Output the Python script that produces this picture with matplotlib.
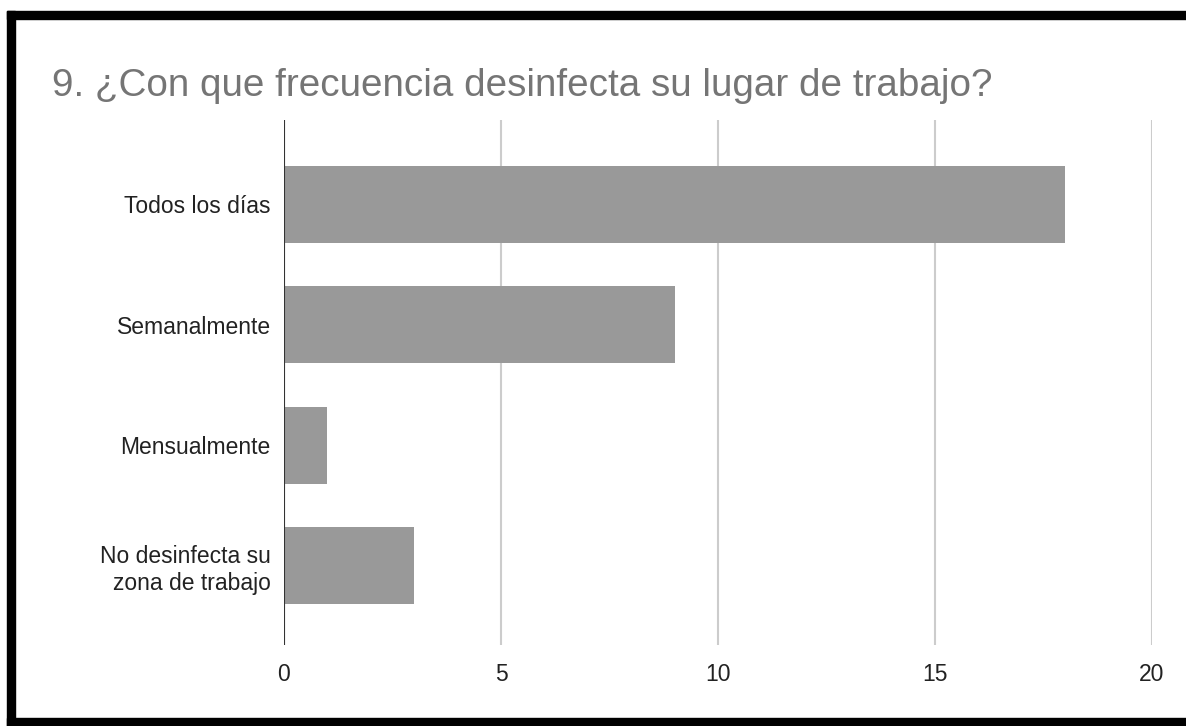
import matplotlib
matplotlib.use("Agg")
import matplotlib.pyplot as plt
from matplotlib.patches import Rectangle

# Survey answers
categories = ["Todos los días", "Semanalmente", "Mensualmente",
              "No desinfecta su\nzona de trabajo"]
counts = [18, 9, 1, 3]
x_ticks = [0, 5, 10, 15, 20]
title = "9. ¿Con que frecuencia desinfecta su lugar de trabajo?"

plt.rcParams["font.family"] = ["Liberation Sans", "DejaVu Sans"]

W, H = 1186, 726
fig = plt.figure(figsize=(W / 100, H / 100), dpi=100)
fig.patch.set_facecolor("white")

# black frame (left, top, bottom only - right edge is cropped in the original)
fig.patches.append(Rectangle((7 / W, 0), 8 / W, 1 - 11 / H, transform=fig.transFigure,
                             color="black", zorder=0))
fig.patches.append(Rectangle((7 / W, 1 - 19 / H), 1, 8 / H, transform=fig.transFigure,
                             color="black", zorder=0))
fig.patches.append(Rectangle((7 / W, 0), 1, 8 / H, transform=fig.transFigure,
                             color="black", zorder=0))

ax = fig.add_axes([284 / W, 1 - 645 / H, (1152 - 284) / W, (645 - 120) / H])
ypos = list(range(len(categories)))
ax.barh(ypos, counts, height=0.64, color="#999999", zorder=2)

ax.set_xlim(0, 20)
ax.set_ylim(3.66, -0.7)
ax.set_xticks(x_ticks)
ax.set_xticklabels([str(t) for t in x_ticks])
ax.set_yticks(ypos)
ax.set_yticklabels(categories, ha="right", multialignment="right")

for s in ax.spines.values():
    s.set_visible(False)
ax.tick_params(axis="both", length=0, labelsize=16.5, colors="#222222")
ax.tick_params(axis="x", pad=13)
ax.tick_params(axis="y", pad=9.5)

ax.grid(axis="x", color="#cccccc", linewidth=1.5, zorder=0)
ax.axvline(0, color="#333333", linewidth=1.5, zorder=3)

fig.text(52 / W, 1 - 86 / H, title, fontsize=27.8, color="#757575",
         ha="left", va="center")

fig.savefig("out.png", dpi=100)
